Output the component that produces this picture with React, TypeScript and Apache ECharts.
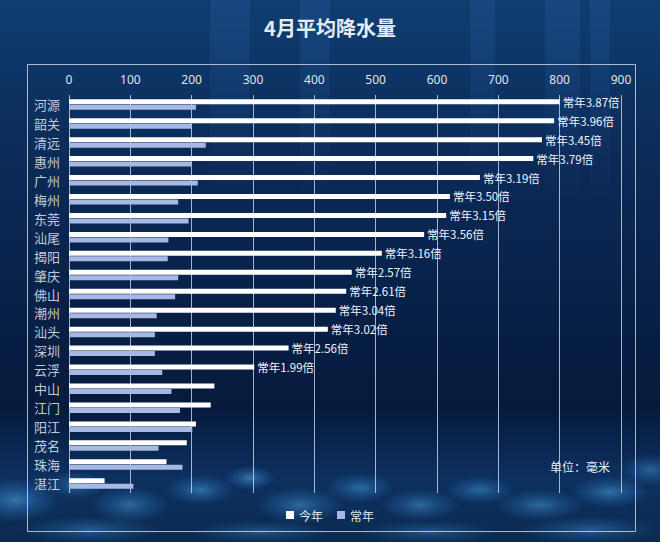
import React, { useEffect, useRef } from "react";
import * as echarts from "echarts";

const cities = ["河源", "韶关", "清远", "惠州", "广州", "梅州", "东莞", "汕尾", "揭阳", "肇庆", "佛山", "潮州", "汕头", "深圳", "云浮", "中山", "江门", "阳江", "茂名", "珠海", "湛江"];
const thisYear = [800, 791, 771, 757, 670, 621, 615, 579, 510, 461, 452, 435, 422, 358, 302, 237, 231, 207, 192, 159, 58];
const normalYear = [207, 200, 223, 200, 210, 178, 195, 162, 161, 178, 173, 143, 140, 140, 152, 167, 181, 201, 146, 185, 105];
const ratios: (string | null)[] = ["3.87", "3.96", "3.45", "3.79", "3.19", "3.50", "3.15", "3.56", "3.16", "2.57", "2.61", "3.04", "3.02", "2.56", "1.99", null, null, null, null, null, null];
const xTicks = { min: 0, max: 900, interval: 100 };
const seriesNames = ["今年", "常年"];

const bokeh = [
  [15, 500, 45, 22, 0.6], [75, 485, 30, 14, 0.45], [130, 505, 40, 18, 0.5], [200, 490, 35, 15, 0.55],
  [250, 478, 25, 12, 0.6], [300, 505, 45, 18, 0.5], [360, 488, 35, 15, 0.5], [420, 505, 40, 16, 0.5],
  [480, 490, 35, 14, 0.5], [540, 505, 45, 16, 0.5], [610, 492, 40, 16, 0.55], [650, 470, 30, 16, 0.45],
  [90, 530, 70, 14, 0.4], [260, 532, 70, 12, 0.35], [430, 532, 70, 12, 0.35], [590, 530, 70, 14, 0.4],
];

export default function App() {
  const ref = useRef<HTMLDivElement>(null);
  useEffect(() => {
    if (!ref.current) return;
    const chart = echarts.init(ref.current, null, { renderer: "svg" });
    const glow = bokeh.map(([cx, cy, rx, ry, a]) => ({
      type: "ellipse",
      silent: true,
      z: -10,
      shape: { cx, cy, rx, ry },
      style: {
        fill: new echarts.graphic.RadialGradient(0.5, 0.5, 0.5, [
          { offset: 0, color: `rgba(80,165,225,${a})` },
          { offset: 0.5, color: `rgba(60,140,210,${a * 0.5})` },
          { offset: 1, color: "rgba(60,140,210,0)" },
        ]),
      },
    }));
    const streaks = [[210, 40], [300, 30], [470, 25], [545, 35], [590, 20]].map(([x, w]) => ({
      type: "rect",
      silent: true,
      z: -10,
      shape: { x, y: 0, width: w, height: 200 },
      style: {
        fill: new echarts.graphic.LinearGradient(0, 0, 0, 1, [
          { offset: 0, color: "rgba(60,120,200,0.18)" },
          { offset: 1, color: "rgba(60,120,200,0)" },
        ]),
      },
    }));
    chart.setOption({
      animation: false,
      backgroundColor: new echarts.graphic.LinearGradient(0, 0, 0, 1, [
        { offset: 0, color: "#0f3d70" },
        { offset: 0.3, color: "#0b2a58" },
        { offset: 0.75, color: "#061a3c" },
        { offset: 0.88, color: "#0c3060" },
        { offset: 1, color: "#0a2a50" },
      ]),
      title: {
        text: "4月平均降水量",
        left: "center",
        top: 12,
        textStyle: { color: "#e6ecf4", fontSize: 20, fontWeight: "bold", fontFamily: "Noto Sans CJK SC" },
      },
      legend: {
        bottom: 16,
        left: "center",
        itemWidth: 8,
        itemHeight: 8,
        itemGap: 14,
        icon: "rect",
        textStyle: { color: "#dde4ee", fontSize: 12, fontFamily: "Noto Sans CJK SC" },
        data: seriesNames,
      },
      grid: { left: 69, right: 39, top: 95, bottom: 49, containLabel: false },
      xAxis: {
        type: "value",
        position: "top",
        min: xTicks.min,
        max: xTicks.max,
        interval: xTicks.interval,
        axisLine: { show: false },
        axisTick: { show: false },
        axisLabel: { color: "#dde4ee", fontSize: 12, margin: 10, fontFamily: "Noto Sans" },
        splitLine: { show: true, lineStyle: { color: "rgba(205,218,238,0.8)", width: 1 } },
      },
      yAxis: {
        type: "category",
        inverse: true,
        data: cities,
        axisLine: { show: false },
        axisTick: { show: false },
        axisLabel: { color: "#c3cbd8", fontSize: 13, margin: 9, fontFamily: "Noto Sans CJK SC" },
      },
      series: [
        {
          name: seriesNames[0],
          type: "bar",
          data: thisYear,
          barWidth: 5,
          barGap: "10%",
          itemStyle: { color: "#ffffff" },
          label: {
            show: true,
            position: "right",
            distance: 3,
            color: "#f0f4fa",
            fontSize: 11.5,
            fontFamily: "Noto Sans CJK SC",
            formatter: (p: any) => (ratios[p.dataIndex] ? `常年${ratios[p.dataIndex]}倍` : ""),
          },
        },
        {
          name: seriesNames[1],
          type: "bar",
          data: normalYear,
          barWidth: 5,
          itemStyle: { color: "#a8b8e4" },
        },
      ],
      graphic: [
        ...streaks,
        ...glow,
        {
          type: "rect",
          silent: true,
          shape: { x: 27.5, y: 64.5, width: 608, height: 467 },
          style: { fill: "none", stroke: "rgba(210,220,235,0.8)", lineWidth: 1 },
        },
        {
          type: "text",
          x: 550,
          y: 460,
          style: { text: "单位：毫米", fill: "#e8eef6", fontSize: 12, fontFamily: "Noto Sans CJK SC" },
        },
      ],
    });
    return () => chart.dispose();
  }, []);
  return <div ref={ref} style={{ position: "fixed", left: 0, top: 0, width: 660, height: 542 }} />;
}
